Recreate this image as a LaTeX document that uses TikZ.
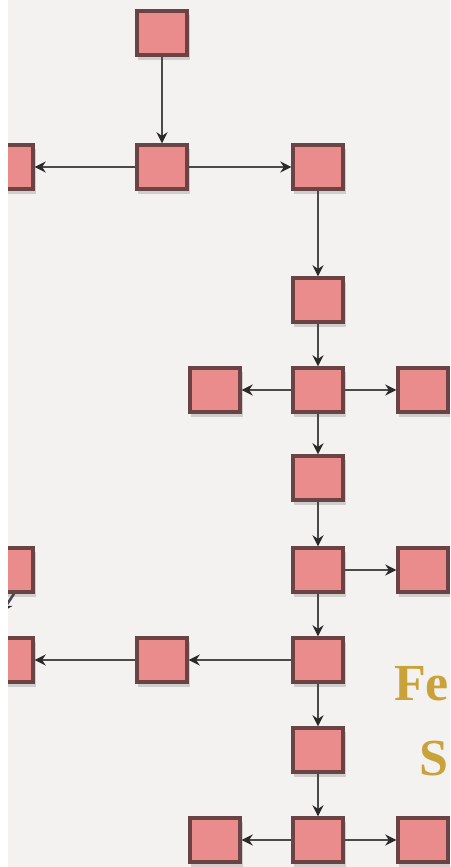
\documentclass[tikz,border=0pt]{standalone}
\usepackage{fontspec}
\setmainfont{Liberation Serif}
\usetikzlibrary{arrows.meta}
\definecolor{bg}{HTML}{F4F2F0}
\definecolor{boxfill}{HTML}{EA8C8C}
\definecolor{boxline}{HTML}{6A4444}
\definecolor{wire}{HTML}{4A4A4A}
\definecolor{tip}{HTML}{2A2A2A}
\definecolor{gold}{HTML}{C9A23A}
\tikzset{
  blk/.style={draw=boxline, line width=3.4pt, fill=boxfill, minimum width=50pt, minimum height=44pt, inner sep=0pt},
  blkshadow/.style={fill=black!45, opacity=0.35},
  link/.style={draw=wire, line width=2.6pt, -{Stealth[length=11pt,width=11pt,color=tip]}},
  title/.style={font=\bfseries\fontsize{52}{52}\selectfont, text=gold, inner sep=0pt, anchor=base west}
}
\begin{document}
\begin{tikzpicture}[x=1pt,y=-1pt]
\useasboundingbox (0,0) rectangle (450,867);
\fill[white] (0,0) rectangle (450,867);
\fill[bg] (8,0) rectangle (450,867);
\clip (8,0) rectangle (450,867);
% block positions
\foreach \n/\x/\y in {a/162/33, b/162/167, bl/8/167, c/318/167, d/318/300,
  el/215/390, e/318/390, er/423/390, f/318/478,
  gl/8/570, g/318/570, gr/423/570,
  hl/8/660, hm/162/660, h/318/660, i/318/750,
  jl/215/840, j/318/840, jr/423/840}{
  \fill[blkshadow] (\x-24,\y-18) rectangle (\x+28,\y+27);
  \node[blk] (\n) at (\x,\y) {};
}
% connectors
\draw[link] (a) -- (b);
\draw[link] (b) -- (bl);
\draw[link] (b) -- (c);
\draw[link] (c) -- (d);
\draw[link] (d) -- (e);
\draw[link] (e) -- (el);
\draw[link] (e) -- (er);
\draw[link] (e) -- (f);
\draw[link] (f) -- (g);
\draw[link] (g) -- (gr);
\draw[link] (g) -- (h);
\draw[link] (h) -- (hm);
\draw[link] (hm) -- (hl);
\draw[link] (h) -- (i);
\draw[link] (i) -- (j);
\draw[link] (j) -- (jl);
\draw[link] (j) -- (jr);
\coordinate (gtail) at (2,612);
\draw[link] (gl.south) ++(6,0) coordinate (gstart) (gstart) -- (gtail);
% heading text at the right edge
\node[title] (t1) at (394,700) {Fe};
\node[title] (t2) at (419,775) {S};
\end{tikzpicture}
\end{document}
